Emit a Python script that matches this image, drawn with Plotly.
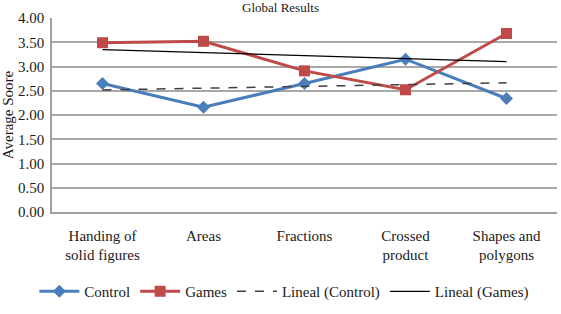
import numpy as np
import plotly.graph_objects as go

categories = ["Handing of<br>solid figures", "Areas", "Fractions", "Crossed<br>product", "Shapes and<br>polygons"]
control = [2.65, 2.16, 2.65, 3.15, 2.34]
games = [3.49, 3.52, 2.91, 2.52, 3.68]
y_ticks = [0, 0.5, 1, 1.5, 2, 2.5, 3, 3.5, 4]

xi = np.arange(1, len(categories) + 1)
trend_c = np.polyval(np.polyfit(xi, control, 1), xi)
trend_g = np.polyval(np.polyfit(xi, games, 1), xi)

FONT = "Liberation Serif"
BLUE = "#4A7EBB"
RED = "#BE4B48"

fig = go.Figure()
fig.add_trace(go.Scatter(x=categories, y=control, name="Control", mode="lines+markers",
                         line=dict(color=BLUE, width=3),
                         marker=dict(symbol="diamond", size=10, color=BLUE)))
fig.add_trace(go.Scatter(x=categories, y=games, name="Games", mode="lines+markers",
                         line=dict(color=RED, width=3),
                         marker=dict(symbol="square", size=11, color=RED)))
fig.add_trace(go.Scatter(x=categories, y=trend_c, name="Lineal (Control)", mode="lines",
                         line=dict(color="#404040", width=1.5, dash="dash")))
fig.add_trace(go.Scatter(x=categories, y=trend_g, name="Lineal (Games)", mode="lines",
                         line=dict(color="#000000", width=1.2)))

fig.update_layout(
    width=561, height=314,
    margin=dict(l=52, r=4, t=18, b=102),
    paper_bgcolor="white", plot_bgcolor="white",
    font=dict(family=FONT, size=15, color="#1a1a1a"),
    title=dict(text="Global Results", x=0.5, xanchor="center", yref="container", y=1,
               yanchor="top", pad=dict(t=3), font=dict(family=FONT, size=13, color="#1a1a1a")),
    showlegend=True,
    legend=dict(orientation="h", x=0.46, xanchor="center", y=-0.41, yanchor="middle",
                font=dict(family=FONT, size=15), itemwidth=40, tracegroupgap=0),
    xaxis=dict(type="category", showgrid=False, showline=True, linecolor="#A0A0A0",
               linewidth=1.5, ticks="", ticklabelstandoff=9, range=[-0.5, 4.5],
               tickfont=dict(family=FONT, size=15)),
    yaxis=dict(range=[0, 4], tickvals=y_ticks, tickformat=".2f", showgrid=True,
               gridcolor="#A8A8A8", gridwidth=1.5, showline=True, linecolor="#A0A0A0",
               linewidth=1.5, zeroline=False, ticks="", ticklabelstandoff=3,
               title=dict(text="Average Soore", standoff=2, font=dict(family=FONT, size=15)),
               tickfont=dict(family=FONT, size=15)),
)

fig.write_html("out.html")
